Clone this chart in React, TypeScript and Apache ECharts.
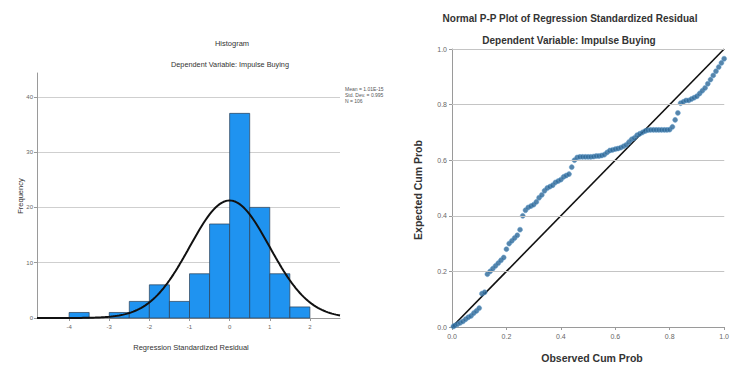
import React, { useEffect, useRef } from "react";
import * as echarts from "echarts";

// Histogram data
const binStarts = [-4, -3, -2.5, -2, -1.5, -1, -0.5, 0, 0.5, 1, 1.5];
const binWidth = 0.5;
const frequencies = [1, 1, 3, 6, 3, 8, 17, 37, 20, 8, 2];
const histXTicks = [-4, -3, -2, -1, 0, 1, 2];
const statMean = 0;
const statSd = 0.995;
const statN = 106;
const legendLines = ["Mean = 1.01E-15", "Std. Dev. = 0.995", "N = 106"];

// P-P plot data
const ppObserved = [
  0.005, 0.01, 0.02, 0.03, 0.04, 0.05, 0.06, 0.07, 0.08, 0.09, 0.1,
  0.11, 0.12, 0.13, 0.14, 0.15, 0.16, 0.17, 0.18, 0.19, 0.2,
  0.21, 0.22, 0.23, 0.24, 0.25, 0.26, 0.27, 0.28, 0.29, 0.3,
  0.31, 0.32, 0.33, 0.34, 0.35, 0.36, 0.37, 0.38, 0.39, 0.4,
  0.41, 0.42, 0.43, 0.44, 0.45, 0.46, 0.47, 0.48, 0.49, 0.5,
  0.51, 0.52, 0.53, 0.54, 0.55, 0.56, 0.57, 0.58, 0.59, 0.6,
  0.61, 0.62, 0.63, 0.64, 0.65, 0.66, 0.67, 0.68, 0.69, 0.7,
  0.71, 0.72, 0.73, 0.74, 0.75, 0.76, 0.77, 0.78, 0.79, 0.8,
  0.81, 0.82, 0.83, 0.84, 0.85, 0.86, 0.87, 0.88, 0.89, 0.9,
  0.91, 0.92, 0.93, 0.94, 0.95, 0.96, 0.97, 0.98, 0.99, 1.0,
];
const ppExpected = [
  0.002, 0.005, 0.01, 0.015, 0.02, 0.028, 0.035, 0.04, 0.05, 0.058, 0.068,
  0.12, 0.125, 0.19, 0.2, 0.21, 0.22, 0.23, 0.24, 0.25, 0.28,
  0.3, 0.31, 0.32, 0.33, 0.35, 0.4, 0.42, 0.43, 0.435, 0.44,
  0.45, 0.465, 0.475, 0.49, 0.5, 0.505, 0.51, 0.52, 0.525, 0.53,
  0.54, 0.545, 0.55, 0.575, 0.6, 0.61, 0.612, 0.612, 0.612, 0.612,
  0.612, 0.613, 0.615, 0.615, 0.617, 0.62, 0.628, 0.635, 0.637, 0.64,
  0.642, 0.645, 0.65, 0.655, 0.665, 0.675, 0.68, 0.69, 0.695, 0.7,
  0.705, 0.708, 0.709, 0.709, 0.709, 0.709, 0.709, 0.709, 0.709, 0.71,
  0.72, 0.745, 0.77, 0.805, 0.81, 0.815, 0.815, 0.82, 0.825, 0.83,
  0.84, 0.85, 0.86, 0.875, 0.89, 0.905, 0.92, 0.935, 0.95, 0.965,
];
const ppGridValues = [0.2, 0.4, 0.6, 0.8, 1.0];

const FONT = "Arial, 'Liberation Sans', sans-serif";

export default function App() {
  const ref = useRef<HTMLDivElement>(null);
  useEffect(() => {
    if (!ref.current) return;
    const chart = echarts.init(ref.current, undefined, { renderer: "svg" });

    const histData = binStarts.map((s, i) => [s, s + binWidth, frequencies[i]]);
    const xMin = -4.8;
    const xMax = 2.75;
    const curve: number[][] = [];
    for (let k = 0; k <= 151; k++) {
      const x = xMin + ((xMax - xMin) * k) / 151;
      const z = (x - statMean) / statSd;
      const y = (statN * binWidth) / (statSd * Math.sqrt(2 * Math.PI)) * Math.exp(-0.5 * z * z);
      curve.push([x, y]);
    }
    const ppData = ppObserved.map((x, i) => [x, ppExpected[i]]);

    const gridLineColor = "#cfcfcf";
    const axisColor = "#9a9a9a";
    const labelColor = "#666";
    const textColor = "#333";

    chart.setOption({
      animation: false,
      backgroundColor: "#ffffff",
      grid: [
        { left: 37, top: 73, width: 303, height: 245 },
        { left: 452, top: 49, width: 278, height: 278 },
      ],
      xAxis: [
        {
          gridIndex: 0,
          type: "value",
          min: xMin,
          max: xMax,
          axisLine: { show: true, onZero: false, lineStyle: { color: axisColor, width: 1 } },
          axisTick: { show: true, customValues: histXTicks, length: 3, lineStyle: { color: axisColor } },
          axisLabel: { customValues: histXTicks, fontSize: 6, color: labelColor, margin: 6, fontFamily: FONT },
          splitLine: { show: false },
        },
        {
          gridIndex: 1,
          type: "value",
          min: 0,
          max: 1,
          interval: 0.2,
          axisLine: { show: true, onZero: false, lineStyle: { color: axisColor, width: 1 } },
          axisTick: { show: true, length: 3, lineStyle: { color: axisColor } },
          axisLabel: { fontSize: 7, color: labelColor, margin: 6, fontFamily: FONT, formatter: (v: number) => v.toFixed(1) },
          splitLine: { show: false },
        },
      ],
      yAxis: [
        {
          gridIndex: 0,
          type: "value",
          min: 0,
          max: 44.3,
          interval: 10,
          axisLine: { show: true, onZero: false, lineStyle: { color: axisColor, width: 1 } },
          axisTick: { show: true, length: 3, lineStyle: { color: axisColor } },
          axisLabel: { fontSize: 6, color: labelColor, margin: 4, fontFamily: FONT, showMaxLabel: false },
          splitLine: { show: true, showMinLine: false, showMaxLine: false, lineStyle: { color: gridLineColor, width: 1 } },
        },
        {
          gridIndex: 1,
          type: "value",
          min: 0,
          max: 1,
          interval: 0.2,
          axisLine: { show: true, onZero: false, lineStyle: { color: axisColor, width: 1 } },
          axisTick: { show: true, length: 3, lineStyle: { color: axisColor } },
          axisLabel: { fontSize: 7, color: labelColor, margin: 5, fontFamily: FONT, formatter: (v: number) => v.toFixed(1) },
          splitLine: { show: true, showMinLine: false, showMaxLine: true, lineStyle: { color: "#c4c4c4", width: 1.2 } },
        },
      ],
      series: [
        {
          type: "custom",
          xAxisIndex: 0,
          yAxisIndex: 0,
          data: histData,
          renderItem: (params: any, api: any) => {
            const p0 = api.coord([api.value(0), api.value(2)]);
            const p1 = api.coord([api.value(1), 0]);
            return {
              type: "rect",
              shape: { x: p0[0], y: p0[1], width: p1[0] - p0[0], height: p1[1] - p0[1] },
              style: { fill: "#1f93f0", stroke: "#2b3f55", lineWidth: 0.7 },
            };
          },
          z: 2,
        },
        {
          type: "line",
          xAxisIndex: 0,
          yAxisIndex: 0,
          data: curve,
          showSymbol: false,
          smooth: false,
          lineStyle: { color: "#111", width: 2 },
          z: 3,
        },
        {
          type: "line",
          xAxisIndex: 1,
          yAxisIndex: 1,
          data: [[0, 0], [1, 1]],
          showSymbol: false,
          lineStyle: { color: "#111", width: 1.6 },
          z: 3,
          markLine: {
            silent: true,
            symbol: ["none", "none"],
            label: { show: false },
            lineStyle: { color: "#c4c4c4", width: 1.2, type: "solid" },
            data: ppGridValues.map((v) => ({ yAxis: v })),
          },
        },
        {
          type: "scatter",
          xAxisIndex: 1,
          yAxisIndex: 1,
          data: ppData,
          symbol: "circle",
          symbolSize: 5,
          itemStyle: { color: "#2c6796", borderColor: "#5e9ccc", borderWidth: 0.6 },
          z: 4,
        },
      ],
      graphic: [
        { type: "text", x: 232, y: 43, style: { text: "Histogram", font: `7.5px ${FONT}`, fill: textColor, textAlign: "center", textVerticalAlign: "middle" } },
        { type: "text", x: 230, y: 64, style: { text: "Dependent Variable: Impulse Buying", font: `7.3px ${FONT}`, fill: textColor, textAlign: "center", textVerticalAlign: "middle" } },
        { type: "text", x: 191, y: 347, style: { text: "Regression Standardized Residual", font: `7.5px ${FONT}`, fill: textColor, textAlign: "center", textVerticalAlign: "middle" } },
        { type: "text", x: 20, y: 196, rotation: Math.PI / 2, style: { text: "Frequency", font: `7.5px ${FONT}`, fill: textColor, textAlign: "center", textVerticalAlign: "middle" } },
        ...legendLines.map((t, i) => ({
          type: "text",
          x: 345,
          y: 89 + i * 6,
          style: { text: t, font: `5px ${FONT}`, fill: "#555", textAlign: "left", textVerticalAlign: "middle" },
        })),
        { type: "text", x: 570, y: 18, style: { text: "Normal P-P Plot of Regression Standardized Residual", font: `bold 10px ${FONT}`, fill: textColor, textAlign: "center", textVerticalAlign: "middle" } },
        { type: "text", x: 569, y: 40, style: { text: "Dependent Variable: Impulse Buying", font: `bold 10px ${FONT}`, fill: textColor, textAlign: "center", textVerticalAlign: "middle" } },
        { type: "text", x: 592, y: 358, style: { text: "Observed Cum Prob", font: `bold 10.5px ${FONT}`, fill: textColor, textAlign: "center", textVerticalAlign: "middle" } },
        { type: "text", x: 418, y: 190, rotation: Math.PI / 2, style: { text: "Expected Cum Prob", font: `bold 10.5px ${FONT}`, fill: textColor, textAlign: "center", textVerticalAlign: "middle" } },
      ],
    });
    return () => chart.dispose();
  }, []);
  return (
    <div
      ref={ref}
      style={{ position: "fixed", left: 0, top: 0, width: 732, height: 370, background: "#fff" }}
    />
  );
}
